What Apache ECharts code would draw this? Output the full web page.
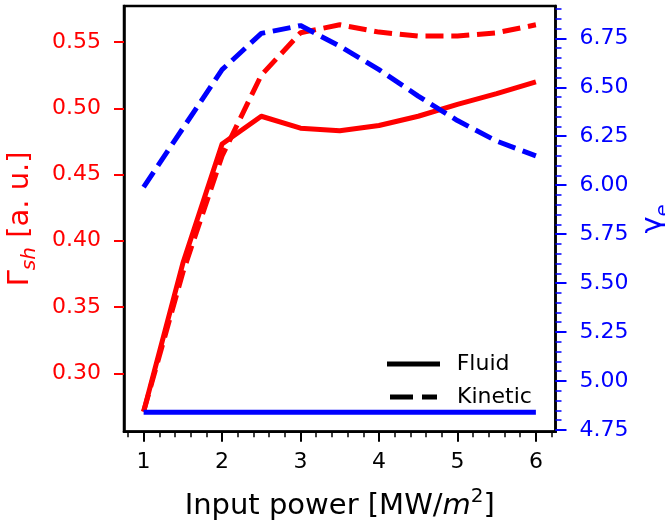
<!DOCTYPE html>
<html>
<head>
<meta charset="utf-8">
<script src="https://cdn.jsdelivr.net/npm/echarts@6/dist/echarts.min.js"></script>
<style>
html,body{margin:0;padding:0;background:#fff;}
#chart{width:665px;height:523px;}
</style>
</head>
<body>
<div id="chart"></div>
<script>
// ---- data ----
const power = [1, 1.5, 2, 2.5, 3, 3.5, 4, 4.5, 5, 5.5, 6];
const gammaShFluid   = [0.271, 0.383, 0.473, 0.494, 0.485, 0.483, 0.487, 0.494, 0.503, 0.511, 0.520];
const gammaShKinetic = [0.271, 0.376, 0.464, 0.525, 0.557, 0.563, 0.5575, 0.5545, 0.5545, 0.557, 0.563];
const gammaEFluid    = [4.84, 4.84, 4.84, 4.84, 4.84, 4.84, 4.84, 4.84, 4.84, 4.84, 4.84];
const gammaEKinetic  = [5.99, 6.29, 6.59, 6.775, 6.815, 6.71, 6.59, 6.455, 6.33, 6.225, 6.15];

const xTicks = [1, 2, 3, 4, 5, 6];
const xMinorTicks = [0.8, 1.0, 1.2, 1.4, 1.6, 1.8, 2.0, 2.2, 2.4, 2.6, 2.8, 3.0, 3.2, 3.4, 3.6, 3.8,
                     4.0, 4.2, 4.4, 4.6, 4.8, 5.0, 5.2, 5.4, 5.6, 5.8, 6.0, 6.2];
const leftTicks = [0.30, 0.35, 0.40, 0.45, 0.50, 0.55];
const rightTicks = [4.75, 5.00, 5.25, 5.50, 5.75, 6.00, 6.25, 6.50, 6.75];
const rightMinorTicks = [4.75, 4.80, 4.85, 4.90, 4.95, 5.00, 5.05, 5.10, 5.15, 5.20, 5.25, 5.30, 5.35,
                         5.40, 5.45, 5.50, 5.55, 5.60, 5.65, 5.70, 5.75, 5.80, 5.85, 5.90, 5.95, 6.00,
                         6.05, 6.10, 6.15, 6.20, 6.25, 6.30, 6.35, 6.40, 6.45, 6.50, 6.55, 6.60, 6.65,
                         6.70, 6.75, 6.80, 6.85, 6.90];

const RED = '#ff0000', BLUE = '#0000ff';
const FONT = 'DejaVu Sans';

function pairs(ys) { return power.map((x, i) => [x, ys[i]]); }

const chart = echarts.init(document.getElementById('chart'), null, {renderer: 'canvas'});
const xMin = 0.75, xMax = 6.25;
const lMin = 0.2559, lMax = 0.5772;
const rMin = 4.741, rMax = 6.915;

const dash = [18, 7.8];

chart.setOption({
  animation: false,
  backgroundColor: '#fff',
  textStyle: {fontFamily: FONT},
  grid: {left: 124, right: 109.5, top: 6, bottom: 91.3, show: true, borderColor: '#000', borderWidth: 2.5,
         backgroundColor: 'transparent', containLabel: false, outerBoundsMode: 'none'},
  xAxis: [{
    type: 'value', min: xMin, max: xMax, position: 'bottom',
    axisLine: {show: true, lineStyle: {color: '#000', width: 2.5}},
    axisTick: {show: true, customValues: xTicks, length: 10, lineStyle: {color: '#000', width: 2}},
    axisLabel: {customValues: xTicks, fontSize: 22, color: '#000', fontFamily: FONT, margin: 20},
    splitLine: {show: false},
    name: '{n|Input power [MW/}{i|m}{s|2}{n|]}',
    nameLocation: 'middle', nameGap: 55,
    nameTextStyle: {rich: {
      n: {fontSize: 29, fontFamily: FONT, color: '#000', lineHeight: 34, verticalAlign: 'bottom'},
      i: {fontSize: 29, fontFamily: FONT, fontStyle: 'italic', color: '#000', lineHeight: 34, verticalAlign: 'bottom'},
      s: {fontSize: 20, fontFamily: FONT, color: '#000', lineHeight: 22, verticalAlign: 'top'}
    }}
  }, {
    type: 'value', min: xMin, max: xMax, position: 'bottom',
    axisLine: {show: false},
    axisTick: {show: true, customValues: xMinorTicks, length: 5.5, lineStyle: {color: '#000', width: 1.5}},
    axisLabel: {show: false},
    splitLine: {show: false}
  }],
  yAxis: [{
    type: 'value', min: lMin, max: lMax, position: 'left',
    axisLine: {show: true, lineStyle: {color: '#000', width: 2.5}},
    axisTick: {show: true, customValues: leftTicks, length: 10, lineStyle: {color: RED, width: 2}},
    axisLabel: {customValues: leftTicks, fontSize: 22, color: RED, fontFamily: FONT, margin: 23,
                formatter: v => v.toFixed(2)},
    splitLine: {show: false},
    name: '{n|Γ}{s|sh}{n| [a. u.]}',
    nameLocation: 'middle', nameGap: 84,
    nameTextStyle: {rich: {
      n: {fontSize: 29, fontFamily: FONT, color: RED, lineHeight: 34, verticalAlign: 'top'},
      s: {fontSize: 20, fontFamily: FONT, fontStyle: 'italic', color: RED, lineHeight: 22, verticalAlign: 'bottom'}
    }}
  }, {
    type: 'value', min: rMin, max: rMax, position: 'right',
    axisLine: {show: true, lineStyle: {color: '#000', width: 2.5}},
    axisTick: {show: true, customValues: rightTicks, length: 11, lineStyle: {color: BLUE, width: 2}},
    axisLabel: {customValues: rightTicks, fontSize: 22, color: BLUE, fontFamily: FONT, margin: 24,
                formatter: v => v.toFixed(2)},
    splitLine: {show: false},
    name: '{n|γ}{s|e}',
    nameLocation: 'middle', nameGap: 78,
    nameTextStyle: {rich: {
      n: {fontSize: 29, fontFamily: FONT, color: BLUE, lineHeight: 34, verticalAlign: 'top'},
      s: {fontSize: 20, fontFamily: FONT, color: BLUE, lineHeight: 22, verticalAlign: 'bottom'}
    }}
  }, {
    type: 'value', min: rMin, max: rMax, position: 'right',
    axisLine: {show: false},
    axisTick: {show: true, customValues: rightMinorTicks, length: 6, lineStyle: {color: BLUE, width: 1.5}},
    axisLabel: {show: false},
    splitLine: {show: false}
  }],
  legend: [{
    data: [{name: 'Fluid', icon: 'path://M0,0H53V5H0Z'}],
    orient: 'vertical', left: 387, top: 353, padding: 0,
    itemWidth: 53, itemHeight: 5, selectedMode: false,
    itemStyle: {color: '#000'},
    textStyle: {fontSize: 22, color: '#000', fontFamily: FONT, lineHeight: 22, padding: [0, 0, 0, 11.7]}
  }, {
    data: [{name: 'Kinetic', icon: 'path://M0,0H23V5H0Z M32,0H47V5H32Z'}],
    orient: 'vertical', left: 390, top: 386, padding: 0,
    itemWidth: 47, itemHeight: 5, selectedMode: false,
    itemStyle: {color: '#000'},
    textStyle: {fontSize: 22, color: '#000', fontFamily: FONT, lineHeight: 22, padding: [0, 0, 0, 15]}
  }],
  series: [
    {name: 'Fluid', type: 'line', data: [], color: '#000', symbol: 'none', lineStyle: {width: 5, color: '#000'}},
    {name: 'Kinetic', type: 'line', data: [], color: '#000', symbol: 'none', lineStyle: {width: 5, color: '#000', type: 'dashed'}},
    {name: 'Γsh fluid', type: 'line', xAxisIndex: 0, yAxisIndex: 0, data: pairs(gammaShFluid), symbol: 'none',
     lineStyle: {color: RED, width: 5, cap: 'butt', join: 'round'}, z: 3},
    {name: 'Γsh kinetic', type: 'line', xAxisIndex: 0, yAxisIndex: 0, data: pairs(gammaShKinetic), symbol: 'none',
     lineStyle: {color: RED, width: 5, type: dash, cap: 'butt'}, z: 3},
    {name: 'γe fluid', type: 'line', xAxisIndex: 0, yAxisIndex: 1, data: pairs(gammaEFluid), symbol: 'none',
     lineStyle: {color: BLUE, width: 5, cap: 'butt'}, z: 4},
    {name: 'γe kinetic', type: 'line', xAxisIndex: 0, yAxisIndex: 1, data: pairs(gammaEKinetic), symbol: 'none',
     lineStyle: {color: BLUE, width: 5, type: dash, cap: 'butt'}, z: 4}
  ]
});
</script>
</body>
</html>
